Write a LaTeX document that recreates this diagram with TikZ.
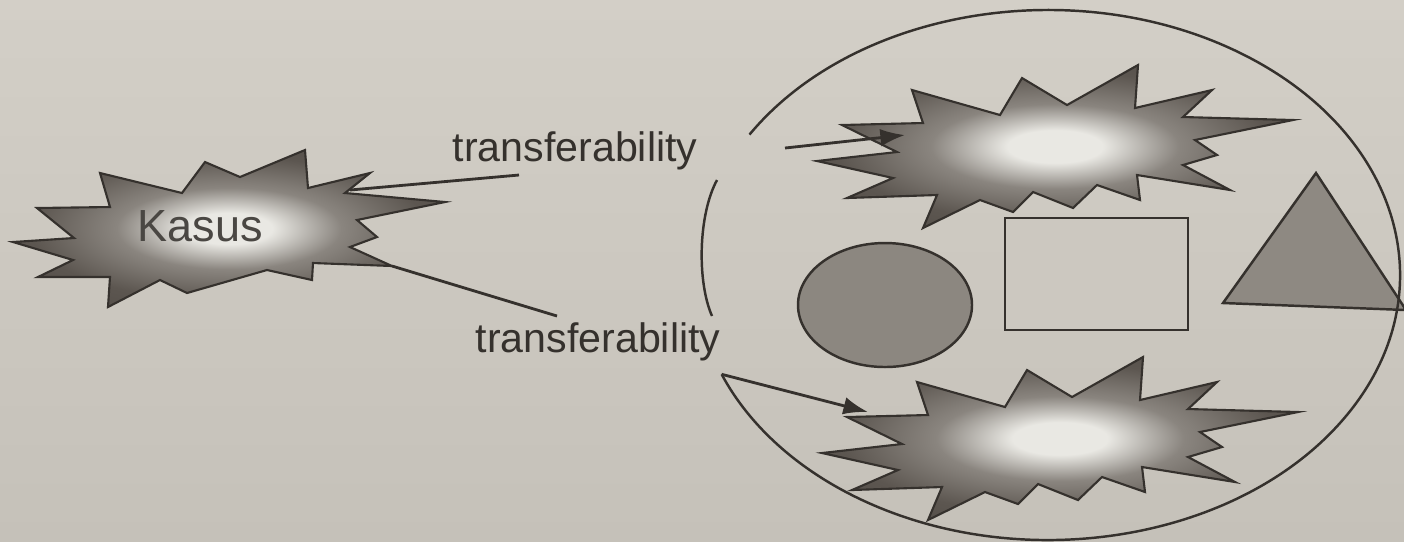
\documentclass[tikz,border=0pt]{standalone}
\usepackage{fontspec}
\setmainfont{Liberation Sans}
\usetikzlibrary{arrows.meta}
\definecolor{paper}{HTML}{D3CFC7}
\definecolor{paperlow}{HTML}{C5C1B9}
\definecolor{ink}{HTML}{35312D}
\definecolor{core}{HTML}{E9E8E3}
\definecolor{mid}{HTML}{8A857F}
\definecolor{edge}{HTML}{5C5650}
\definecolor{edgedark}{HTML}{4A4540}
\definecolor{discfill}{HTML}{8C8780}
\definecolor{boxfill}{HTML}{CCC8C0}
\definecolor{trifill}{HTML}{8E8982}
\definecolor{kasusgrey}{HTML}{4A4743}
\pgfdeclareradialshading{burst}{\pgfpoint{0bp}{0bp}}{color(0bp)=(core); color(5bp)=(core); color(13bp)=(mid); color(23bp)=(edge); color(40bp)=(edgedark); color(50bp)=(edgedark)}

\begin{document}
\begin{tikzpicture}[
    x=0.01cm, y=-0.01cm,
    every node/.style={font=\fontsize{11.7}{14}\selectfont, text=ink},
    outline/.style={draw=ink, line width=0.7pt},
    burstfill/.style={shading=burst, draw=ink, line width=0.6pt},
    link/.style={ink, line width=0.8pt},
    arr/.style={-{Latex[length=7pt, width=5pt]}, ink, line width=0.8pt},
]
\def\kasusburst{(13,242) -- (74,238) -- (37,208) -- (110,207) -- (100,173) -- (182,193)
    -- (205,162) -- (240,177) -- (305,150) -- (308,188) -- (370,173) -- (345,193)
    -- (445,202) -- (357,220) -- (377,237) -- (350,247) -- (392,266) -- (313,263)
    -- (312,280) -- (267,270) -- (187,293) -- (160,280) -- (108,307) -- (110,277)
    -- (38,277) -- (73,260) -- cycle}
\def\bigburst{(817,161) -- (897,152) -- (842,125) -- (923,123) -- (912,90) -- (1000,115)
    -- (1022,78) -- (1067,105) -- (1138,65) -- (1135,108) -- (1212,90) -- (1183,117)
    -- (1293,120) -- (1195,140) -- (1217,155) -- (1183,165) -- (1230,190) -- (1137,175)
    -- (1140,200) -- (1097,185) -- (1073,208) -- (1033,192) -- (1013,212) -- (980,200)
    -- (923,228) -- (937,195) -- (847,198) -- (893,178) -- cycle}

% ---------------- paper
\shade[top color=paper, bottom color=paperlow] (0,0) rectangle (1404,541);
\useasboundingbox (0,0) rectangle (1404,541);

% ---------------- the case
\shadedraw[burstfill] \kasusburst;
\node[font=\fontsize{12.8}{15}\selectfont, text=kasusgrey] (kasus) at (200,226) {Kasus};
\coordinate (kUp) at (350,190);
\coordinate (kLow) at (392,266);
\coordinate (endUp) at (519,175);
\coordinate (endLow) at (557,316);
\draw[link] (kUp) -- (endUp);
\draw[link] (kLow) -- (endLow);
\node (tfUp) at (575,151) {transferability};
\node (tfLow) at (598,342) {transferability};

% ---------------- the other cases
\shadedraw[burstfill] \bigburst;
\begin{scope}[shift={(5,292)}]
    \shadedraw[burstfill] \bigburst;
\end{scope}
\draw[outline, fill=discfill] (885,305) ellipse [x radius=87, y radius=62];
\draw[outline, fill=boxfill] (1005,218) rectangle (1188,330);
\draw[outline, fill=trifill] (1316,173) -- (1223,303) -- (1406,310) -- cycle;

% ---------------- the context
\draw[outline] (1048,275) ++(212:352 and 265)
    arc[start angle=212, end angle=518, x radius=352, y radius=265] coordinate (gapLow);
\draw[outline] (717,180) .. controls (698,215) and (697,282) .. (712,316);
\coordinate (inUp) at (785,148);
\coordinate (tipUp) at (905,135);
\coordinate (tipLow) at (868,412);
\draw[arr] (inUp) -- (tipUp);
\draw[arr] (gapLow) -- (tipLow);
\end{tikzpicture}
\end{document}
